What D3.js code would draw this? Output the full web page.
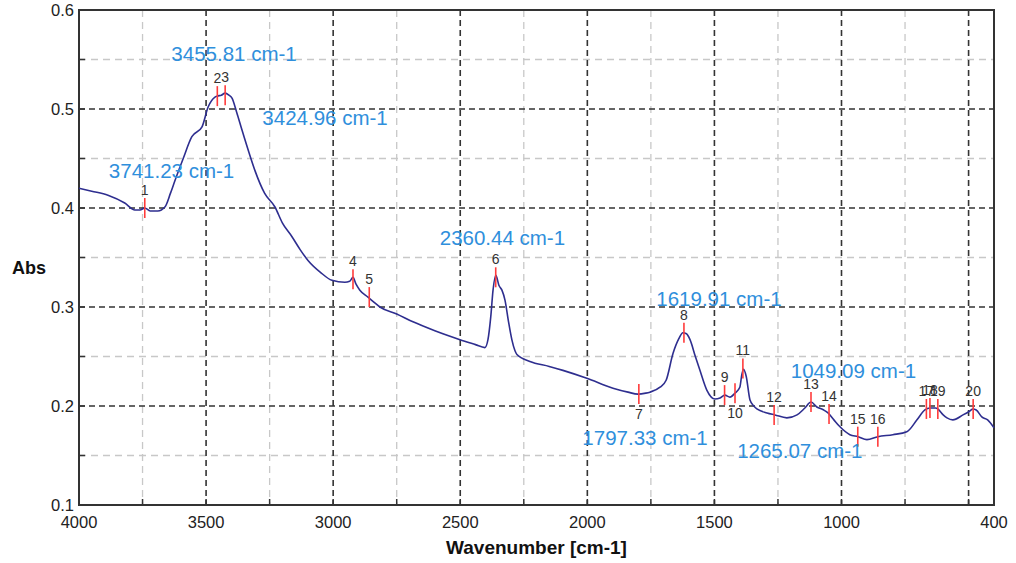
<!DOCTYPE html>
<html>
<head>
<meta charset="utf-8">
<script src="https://cdn.jsdelivr.net/npm/d3@7"></script>
<style>
  body { margin: 0; background: #fff; }
  svg text { font-family: "Liberation Sans", Arial, sans-serif; }
</style>
</head>
<body>
<div id="chart"></div>
<script>
// ---------- spectrum ----------
const wavenumbers = [4000, 3950, 3886, 3820, 3780, 3760, 3741, 3720, 3690, 3662, 3640, 3622, 3590, 3556, 3516,
  3492, 3465, 3456, 3440, 3425, 3410, 3398, 3380, 3359, 3330, 3308, 3270, 3229, 3200, 3162, 3130, 3099, 3050,
  3005, 2954, 2935, 2922, 2910, 2895, 2863, 2840, 2816, 2750, 2686, 2600, 2501, 2440, 2403, 2391, 2380, 2371,
  2360, 2348, 2336, 2324, 2310, 2297, 2285, 2277, 2226, 2150, 2096, 2002, 1899, 1840, 1801, 1770, 1754, 1714,
  1690, 1663, 1640, 1624, 1610, 1596, 1575, 1557, 1530, 1498, 1478, 1459, 1439, 1419, 1400, 1392, 1385, 1375,
  1360, 1345, 1333, 1293, 1262, 1215, 1175, 1144, 1120, 1097, 1070, 1053, 1030, 1006, 967, 935, 900, 857, 798,
  743, 703, 672, 652, 630, 621, 600, 585, 562, 522, 495, 483, 470, 448, 425, 400];
const absorbance = [0.420, 0.417, 0.413, 0.405, 0.398, 0.398, 0.400, 0.397, 0.397, 0.401, 0.415, 0.428, 0.450, 0.472, 0.482,
  0.502, 0.512, 0.513, 0.514, 0.516, 0.514, 0.511, 0.497, 0.479, 0.455, 0.438, 0.415, 0.401, 0.385, 0.371, 0.358, 0.347, 0.335,
  0.327, 0.325, 0.326, 0.330, 0.323, 0.317, 0.310, 0.305, 0.300, 0.293, 0.285, 0.276, 0.267, 0.262, 0.259, 0.267, 0.290, 0.317,
  0.332, 0.322, 0.317, 0.307, 0.285, 0.267, 0.256, 0.252, 0.245, 0.240, 0.236, 0.228, 0.218, 0.214, 0.212, 0.213, 0.214, 0.219,
  0.226, 0.253, 0.268, 0.274, 0.273, 0.267, 0.250, 0.236, 0.216, 0.207, 0.208, 0.211, 0.209, 0.213, 0.219, 0.232, 0.237, 0.230,
  0.206, 0.200, 0.197, 0.193, 0.191, 0.188, 0.191, 0.198, 0.204, 0.199, 0.196, 0.193, 0.186, 0.179, 0.171, 0.169, 0.166, 0.169, 0.171,
  0.174, 0.186, 0.196, 0.198, 0.198, 0.197, 0.191, 0.188, 0.186, 0.191, 0.195, 0.197, 0.196, 0.189, 0.186, 0.178];

// ---------- peak markers ----------
const peakNums = ["1", "2", "3", "4", "5", "6", "7", "8", "9", "10", "11", "12", "13", "14", "15", "16", "17", "18", "19", "20"];
const peakWn = [3741.23, 3455.81, 3424.96, 2922, 2858, 2360.44, 1797.33, 1619.91, 1460, 1419, 1388, 1265.07, 1120, 1049.09, 936, 857, 666, 652, 621, 482];
const peakAbs = [0.400, 0.513, 0.514, 0.328, 0.310, 0.330, 0.212, 0.274, 0.211, 0.213, 0.238, 0.191, 0.204, 0.192, 0.169, 0.169, 0.197, 0.198, 0.197, 0.197];
const labelsBelow = ["7", "10"];

// ---------- blue annotations ----------
const noteTexts = ["3455.81 cm-1", "3424.96 cm-1", "3741.23 cm-1", "2360.44 cm-1", "1619.91 cm-1", "1049.09 cm-1", "1797.33 cm-1", "1265.07 cm-1"];
const noteWn = [3390, 3032, 3636, 2334, 1482, 953, 1773, 1164];
const noteAbs = [0.556, 0.491, 0.438, 0.370, 0.308, 0.236, 0.168, 0.155];

// ---------- axes ----------
const xTickLabels = [4000, 3500, 3000, 2500, 2000, 1500, 1000, 400];
const xMajorGrid = [3500, 3000, 2500, 2000, 1500, 1000, 500];
const xMinorGrid = [3750, 3250, 2750, 2250, 1750, 1250, 750];
const yTickLabels = [0.1, 0.2, 0.3, 0.4, 0.5, 0.6];
const yMajorGrid = [0.2, 0.3, 0.4, 0.5];
const yMinorGrid = [0.15, 0.25, 0.35, 0.45, 0.55];

const width = 1016, height = 563;
const margin = { top: 10, right: 22, bottom: 58, left: 79 };
const iw = width - margin.left - margin.right;
const ih = height - margin.top - margin.bottom;

const svg = d3.select("#chart").append("svg")
  .attr("width", width)
  .attr("height", height);

const g = svg.append("g").attr("transform", `translate(${margin.left},${margin.top})`);

const x = d3.scaleLinear().domain([4000, 400]).range([0, iw]);
const y = d3.scaleLinear().domain([0.1, 0.6]).range([ih, 0]);

// grid
g.selectAll(".vminor").data(xMinorGrid).join("line")
  .attr("x1", d => x(d)).attr("x2", d => x(d)).attr("y1", 0).attr("y2", ih)
  .attr("stroke", "#c8c8c8").attr("stroke-width", 1.3).attr("stroke-dasharray", "7,5");
g.selectAll(".hminor").data(yMinorGrid).join("line")
  .attr("x1", 0).attr("x2", iw).attr("y1", d => y(d)).attr("y2", d => y(d))
  .attr("stroke", "#c8c8c8").attr("stroke-width", 1.3).attr("stroke-dasharray", "7,5");
g.selectAll(".vmajor").data(xMajorGrid).join("line")
  .attr("x1", d => x(d)).attr("x2", d => x(d)).attr("y1", 0).attr("y2", ih)
  .attr("stroke", "#333").attr("stroke-width", 1.6).attr("stroke-dasharray", "6,4");
g.selectAll(".hmajor").data(yMajorGrid).join("line")
  .attr("x1", 0).attr("x2", iw).attr("y1", d => y(d)).attr("y2", d => y(d))
  .attr("stroke", "#333").attr("stroke-width", 1.6).attr("stroke-dasharray", "6,4");

// inward ticks
g.selectAll(".xt").data(xMajorGrid.concat(xMinorGrid)).join("line")
  .attr("x1", d => x(d)).attr("x2", d => x(d)).attr("y1", ih).attr("y2", ih - 6)
  .attr("stroke", "#333").attr("stroke-width", 1.5);
g.selectAll(".yt").data(yMajorGrid.concat(yMinorGrid)).join("line")
  .attr("x1", 0).attr("x2", 6).attr("y1", d => y(d)).attr("y2", d => y(d))
  .attr("stroke", "#333").attr("stroke-width", 1.5);

// frame
g.append("rect").attr("width", iw).attr("height", ih)
  .attr("fill", "none").attr("stroke", "#333").attr("stroke-width", 2);

// tick labels
g.selectAll(".xl").data(xTickLabels).join("text")
  .attr("x", d => x(d)).attr("y", ih + 23)
  .attr("text-anchor", "middle").attr("font-size", 16.5).attr("fill", "#222")
  .text(d => d);
g.selectAll(".yl").data(yTickLabels).join("text")
  .attr("x", -5).attr("y", d => y(d)).attr("dy", "0.36em")
  .attr("text-anchor", "end").attr("font-size", 16.5).attr("fill", "#222")
  .text(d => d3.format(".1f")(d));

// axis titles
svg.append("text").attr("x", margin.left + iw / 2 + 0).attr("y", 554)
  .attr("text-anchor", "middle").attr("font-size", 19).attr("font-weight", "bold").attr("fill", "#111")
  .text("Wavenumber [cm-1]");
svg.append("text").attr("x", 29).attr("y", 274)
  .attr("text-anchor", "middle").attr("font-size", 18).attr("font-weight", "bold").attr("fill", "#111")
  .text("Abs");

// spectrum line
const pts = wavenumbers.map((w, i) => [w, absorbance[i]]);
const line = d3.line().x(d => x(d[0])).y(d => y(d[1])).curve(d3.curveMonotoneX);
g.append("path").datum(pts).attr("d", line)
  .attr("fill", "none").attr("stroke", "#2e2e8f").attr("stroke-width", 1.6);

// peak markers
const peaks = peakNums.map((n, i) => ({ n, w: peakWn[i], a: peakAbs[i] }));
g.selectAll(".pk").data(peaks).join("line")
  .attr("x1", d => x(d.w)).attr("x2", d => x(d.w))
  .attr("y1", d => y(d.a) - 10).attr("y2", d => y(d.a) + 10)
  .attr("stroke", "#ff3b3b").attr("stroke-width", 1.6);
g.selectAll(".pkl").data(peaks).join("text")
  .attr("x", d => x(d.w))
  .attr("y", d => labelsBelow.includes(d.n) ? y(d.a) + 25 : y(d.a) - 13)
  .attr("text-anchor", "middle").attr("font-size", 14).attr("fill", "#333")
  .text(d => d.n);

// blue annotations
g.selectAll(".note").data(noteTexts).join("text")
  .attr("x", (d, i) => x(noteWn[i])).attr("y", (d, i) => y(noteAbs[i])).attr("dy", "0.36em")
  .attr("text-anchor", "middle").attr("font-size", 20.5).attr("fill", "#2f8fdc")
  .text(d => d);
</script>
</body>
</html>
